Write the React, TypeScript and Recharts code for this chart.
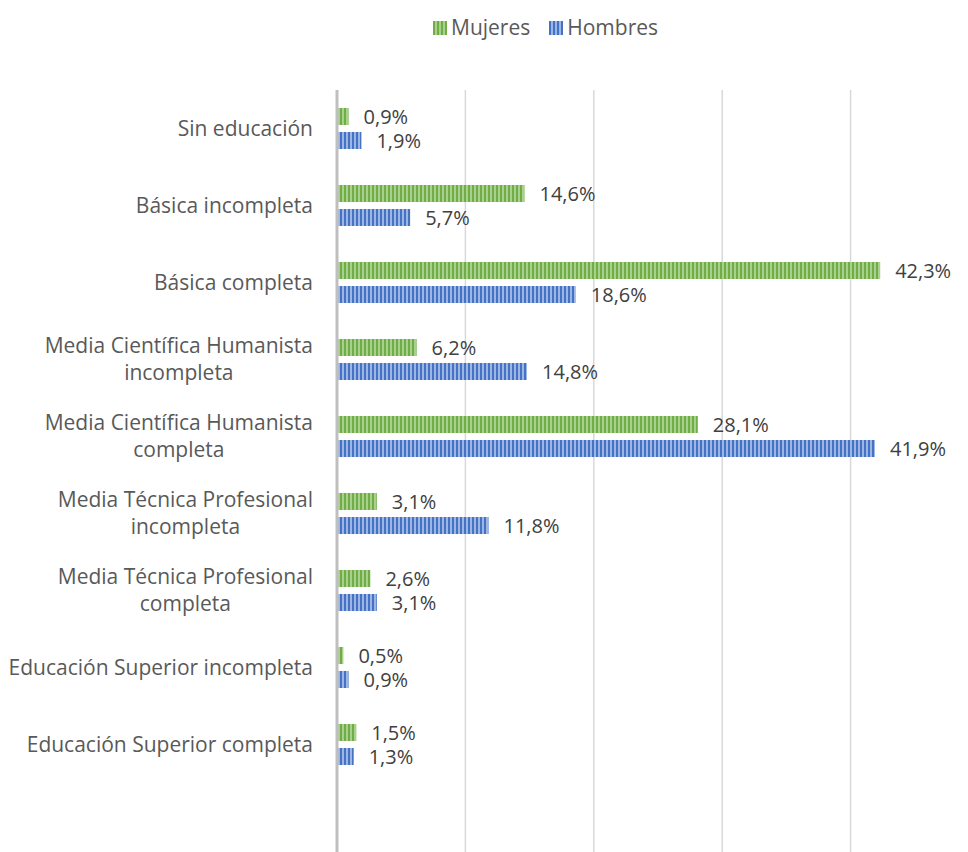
import React from 'react';
import { BarChart, Bar, XAxis, YAxis, CartesianGrid, Legend, LabelList } from 'recharts';

const categories = [
  'Sin educación',
  'Básica incompleta',
  'Básica completa',
  'Media Científica Humanista\nincompleta',
  'Media Científica Humanista\ncompleta',
  'Media Técnica Profesional\nincompleta',
  'Media Técnica Profesional\ncompleta',
  'Educación Superior incompleta',
  'Educación Superior completa',
  '',
];
const mujeres = [0.9, 14.6, 42.3, 6.2, 28.1, 3.1, 2.6, 0.5, 1.5, null];
const hombres = [1.9, 5.7, 18.6, 14.8, 41.9, 11.8, 3.1, 0.9, 1.3, null];
const xTicks = [0, 10, 20, 30, 40, 50];

const data = categories.map((name, i) => ({ name, mujeres: mujeres[i], hombres: hombres[i] }));

const FONT = '"Open Sans", sans-serif';
const SIZE = 21;
const TEXT = '#595959';

let ctx: CanvasRenderingContext2D | null = null;
const measure = (s: string) => {
  if (!ctx) ctx = document.createElement('canvas').getContext('2d');
  if (!ctx) return s.length * 10;
  ctx.font = `${SIZE}px ${FONT}`;
  return ctx.measureText(s).width;
};

const CategoryTick = ({ x, y, payload }: any) => {
  const lines = String(payload.value).split('\n');
  if (lines.length === 1) {
    return (
      <text x={x} y={y} dy={7} textAnchor="end" fontSize={SIZE} fontFamily={FONT} fill={TEXT}>
        {lines[0]}
      </text>
    );
  }
  const w = Math.max(...lines.map(measure));
  const cx = x - w / 2;
  return (
    <text x={cx} y={y} textAnchor="middle" fontSize={SIZE} fontFamily={FONT} fill={TEXT}>
      {lines.map((l, i) => (
        <tspan key={i} x={cx} y={y + 7 + (i - (lines.length - 1) / 2) * 27}>
          {l}
        </tspan>
      ))}
    </text>
  );
};

const fmt = (v: any) => (v == null ? '' : `${String(v).replace('.', ',')}%`);

const Swatch = ({ id }: { id: string }) => (
  <svg width={14} height={14} style={{ verticalAlign: 'middle', marginRight: 4, marginTop: -3 }}>
    <rect width={14} height={14} fill={`url(#${id})`} />
  </svg>
);

const LegendContent = () => (
  <div
    style={{
      height: 82,
      display: 'flex',
      justifyContent: 'flex-start',
      paddingTop: 5,
      paddingLeft: 425,
      boxSizing: 'border-box',
      fontFamily: FONT,
      fontSize: SIZE,
      color: TEXT,
    }}
  >
    <span style={{ marginRight: 19 }}>
      <Swatch id="pMuj" />
      Mujeres
    </span>
    <span>
      <Swatch id="pHom" />
      Hombres
    </span>
  </div>
);

export default function App() {
  return (
    <div style={{ width: 952, height: 844, overflow: 'hidden', position: 'relative' }}>
      <svg width={0} height={0} style={{ position: 'absolute' }}>
        <defs>
          <pattern id="pMuj" width={4} height={4} patternUnits="userSpaceOnUse">
            <rect width={4} height={4} fill="#a9d18e" />
            <rect width={2} height={4} fill="#70ad47" />
          </pattern>
          <pattern id="pHom" width={4} height={4} patternUnits="userSpaceOnUse">
            <rect width={4} height={4} fill="#9db6e4" />
            <rect width={2} height={4} fill="#4472c4" />
          </pattern>
        </defs>
      </svg>
      <BarChart
        width={971}
        height={852}
        data={data}
        layout="vertical"
        margin={{ top: 0, right: 0, bottom: 0, left: 0 }}
        barSize={17}
        barGap={7}
      >
        <CartesianGrid horizontal={false} stroke="#d9d9d9" strokeWidth={1.5} />
        <XAxis type="number" domain={[0, 50]} ticks={xTicks} hide />
        <YAxis
          type="category"
          dataKey="name"
          width={329}
          tick={<CategoryTick />}
          tickLine={false}
          tickSize={0}
          tickMargin={24}
          axisLine={{ stroke: '#bfbfbf', strokeWidth: 3 }}
          interval={0}
        />
        <Legend verticalAlign="top" wrapperStyle={{ width: 952 }} content={<LegendContent />} />
        <Bar dataKey="mujeres" name="Mujeres" fill="url(#pMuj)" isAnimationActive={false}>
          <LabelList dataKey="mujeres" position="right" offset={15} formatter={fmt} fill="#404040" fontSize={20} fontFamily={FONT} />
        </Bar>
        <Bar dataKey="hombres" name="Hombres" fill="url(#pHom)" isAnimationActive={false}>
          <LabelList dataKey="hombres" position="right" offset={15} formatter={fmt} fill="#404040" fontSize={20} fontFamily={FONT} />
        </Bar>
      </BarChart>
    </div>
  );
}
